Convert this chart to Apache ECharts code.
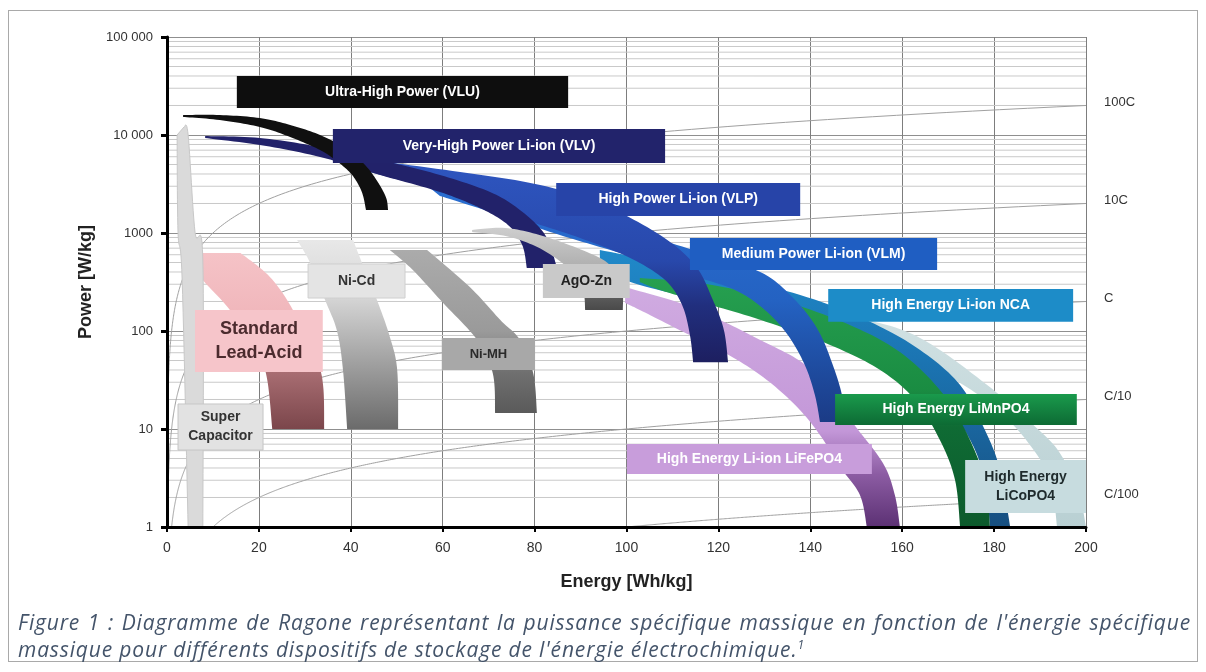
<!DOCTYPE html>
<html><head><meta charset="utf-8">
<script src="https://cdn.jsdelivr.net/npm/echarts@6.0.0/dist/echarts.min.js"></script>
<style>
html,body{margin:0;padding:0;background:#fff;}
#wrap{position:relative;width:1206px;height:672px;overflow:hidden;background:#fff;}
#chart{position:absolute;left:0;top:0;width:1206px;height:672px;}
#frame{position:absolute;left:8px;top:10px;width:1190px;height:652px;border:1.5px solid #a9a9a9;box-sizing:border-box;pointer-events:none;}
#caption{position:absolute;left:18px;top:609px;width:1173px;font-family:"Open Sans","Liberation Sans",sans-serif;font-style:italic;font-size:21px;color:#44546a;line-height:27px;}
#cap1{text-align:justify;text-align-last:justify;}
#caption sup{font-size:12px;line-height:0;}
</style></head>
<body><div id="wrap"><div id="chart"></div><div id="frame"></div>
<div id="caption"><div id="cap1">Figure 1 : Diagramme de Ragone représentant la puissance spécifique massique en fonction de l'énergie spécifique</div><div id="cap2"><span id="cap2s">massique pour différents dispositifs de stockage de l'énergie électrochimique.<sup>1</sup></span></div></div>
</div>
<script>
// ---------- data (Energy Wh/kg, Power W/kg) ----------
const xTicks = [0,20,40,60,80,100,120,140,160,180,200];
const yDecades = [1,10,100,1000,10000,100000];
const minorGridP = [2,3,4,5,6,7,8,9,20,30,40,50,60,70,80,90,200,300,400,500,600,700,800,900,2000,3000,4000,5000,6000,7000,8000,9000,20000,30000,40000,50000,60000,70000,80000,90000];
const cRates = [100,10,1,0.1,0.01];
const cRateNames = ['100C','10C','C','C/10','C/100'];

const superCapRight = [[3.7,12070],[4.6,10000],[6.1,1020],[7.8,530],[7.8,1]];
const superCapLeft  = [[4.6,1],[3.3,331],[2.4,1020],[2.2,10000]];
const leadAcidOuter = [[16,625],[22.4,356],[27.4,164],[32.6,50],[34,27],[34.2,10]];
const leadAcidInner = [[22.9,10],[21.8,32],[19.6,64],[13.7,164],[7.2,356],[3.9,625]];
const niCdOuter = [[40.5,850],[42.4,500],[45.7,207],[48.5,87],[50.1,40],[50.3,10]];
const niCdInner = [[39.2,10],[38.3,40],[37,100],[34.4,207],[31.1,500],[28.3,850]];
const niMHOuter = [[56.6,670],[65.9,281],[72.5,130],[76.8,81],[79.7,37],[80.5,14.6]];
const niMHInner = [[71.4,14.6],[70.9,37],[67.5,81],[60.1,193],[53.5,419],[48.5,670]];
const agoZnOuter = [[66.4,1075],[73.6,1125],[81.8,932],[91.4,640],[96.4,471],[99.0,295],[99.2,164]];
const agoZnInner = [[91.0,164],[90.5,262],[87.7,419],[81.8,671],[74.6,911],[66.4,1023]];
const vluUpper = [[3.5,16000],[11.5,16000],[20.2,14900],[26.8,12650],[33.3,10000],[38.7,7370],[43.1,4940],[45.9,3300],[47.7,2280],[48.1,1720]];
const vluLower = [[43.3,1720],[42.4,2620],[40.3,3900],[37.2,5300],[33.3,7030],[26.8,9540],[20.2,12070],[11.5,14200],[3.5,15300]];
const vlvUpper = [[8.3,9770],[20.2,9310],[33.3,7550],[46.4,5560],[59.4,3910],[70.3,2620],[76.8,1720],[82.3,954],[84.9,439]];
const vlvLower = [[78.3,439],[77.3,755],[74.2,1210],[68.1,1800],[59.4,2620],[46.4,3910],[33.3,5970],[20.2,7910],[8.3,9310]];
const vlpUpper = [[44.2,5560],[63.8,4190],[81.2,3090],[94.9,1930],[107.3,954],[114.9,471],[118.8,207],[121.2,102],[122.1,48]];
const vlpLower = [[114.5,48],[113.8,91],[112.1,184],[108.4,331],[100.8,556],[89.9,889],[76.8,1420],[63.8,2440],[50.7,3470],[44.2,4190]];
const vlmUpper = [[55.1,3470],[68.1,2560],[81.8,1890],[100.1,1075],[114.5,671],[129.1,400],[136.7,207],[141.7,102],[144.9,45],[146.9,22.2],[147.8,11.8]];
const vlmLower = [[142.1,11.8],[141.0,22.2],[138.8,45],[135.1,91],[130.1,164],[123.6,262],[113.8,373],[100.1,597],[85.5,954],[72.5,1530],[59.4,2390]];
const ncaUpper = [[94.2,671],[116.0,419],[137.8,233],[153.0,124],[163.9,64],[172.6,28.1],[178.0,9.77],[181.3,3.82],[183.5,1]];
const ncaLower = [[179.1,1],[178.0,3.02],[174.8,7.72],[169.3,17.6],[160.6,35.6],[150.8,64],[137.8,107],[120.3,184],[102.9,295],[94.2,419]];
const limnUpper = [[102.9,347],[116.0,309],[133.4,207],[148.6,115],[159.5,61],[168.2,25],[173.7,9.77],[178.0,3.02],[179.1,1]];
const limnLower = [[172.6,1],[171.5,3.02],[168.2,7.72],[162.8,19.8],[155.2,40],[144.3,72],[129.1,130],[116.0,198],[107.3,262],[102.9,316]];
const lifeUpper = [[99.7,281],[111.6,193],[120.3,130],[129.1,81],[138.4,47.1],[145.4,22.2],[149.3,11.5],[155.8,4.5],[158.4,2.12],[159.5,1]];
const lifeLower = [[152.3,1],[150.8,2.12],[146.5,4.1],[142.1,8.69],[136.7,17.6],[129.1,35.6],[120.3,64],[111.6,102],[102.9,164],[99.7,193]];
const licoUpper = [[133.4,207],[150.8,136],[163.9,85],[178.5,28.1],[189.3,10.2],[194.3,5.69],[198.3,2.39],[200,1]];
const licoLower = [[193.7,1],[192.2,3.02],[187.8,6.87],[181.3,14.9],[172.6,29.5],[161.7,53],[150.8,85],[137.8,136],[133.4,164]];

const labelNames = ['Ultra-High Power (VLU)','Very-High Power Li-ion (VLV)','High Power Li-ion (VLP)','Medium Power Li-ion (VLM)','High Energy Li-ion NCA','High Energy LiMnPO4','High Energy Li-ion LiFePO4','High Energy\nLiCoPO4','Ni-Cd','Ni-MH','AgO-Zn','Standard\nLead-Acid','Super\nCapacitor'];
// box corners: [E1, P1, E2, P2]
const labelBoxes = [[15.2,18870,87.3,40000],[36.1,5180,108.4,11510],[84.7,1490,137.8,3237],[113.8,419,167.6,889],[143.9,124,197.2,268],[145.4,11,198,22.8],[100.1,3.47,153.4,7.03],[173.7,1.39,200,4.83],[30.7,217,51.8,483],[59.8,40,80.1,84.9],[81.8,217,100.7,483],[6.1,38.2,33.9,164],[2.4,6.1,20.9,18]];

// ---------- styles ----------
const FONT = '"Liberation Sans", Arial, sans-serif';
const G = (stops) => new echarts.graphic.LinearGradient(0,0,0,1, stops.map(s=>({offset:s[0],color:s[1]})));
const boxStyles = [
  {fill:'#0e0e0e', text:'#ffffff', size:14},
  {fill:'#22236b', text:'#ffffff', size:14},
  {fill:'#2744a8', text:'#ffffff', size:14},
  {fill:'#1f5ec2', text:'#ffffff', size:14},
  {fill:'#1d8cc8', text:'#ffffff', size:14},
  {fill:G([[0,'#1a9a4c'],[1,'#0d6b34']]), text:'#ffffff', size:14},
  {fill:'#c89ddb', text:'#ffffff', size:14},
  {fill:'#c7dcdf', text:'#1e2a2c', size:14},
  {fill:'#e4e4e4', text:'#333333', size:14, stroke:'#cfcfcf'},
  {fill:'#a8a8a8', text:'#2a2a2a', size:13},
  {fill:'#c9c9c9', text:'#222222', size:14},
  {fill:'#f6c5ca', text:'#4b2b2e', size:18},
  {fill:'#e2e2e2', text:'#333333', size:14, stroke:'#c6c6c6'}
];

function catmull(pts, seg) {
  if (pts.length < 3) return pts.slice();
  const out = [];
  for (let i = 0; i < pts.length - 1; i++) {
    const p0 = pts[i-1] || pts[i], p1 = pts[i], p2 = pts[i+1], p3 = pts[i+2] || pts[i+1];
    for (let s = 0; s < seg; s++) {
      const t = s/seg, t2 = t*t, t3 = t2*t;
      const f = (k) => 0.5*((2*p1[k]) + (-p0[k]+p2[k])*t + (2*p0[k]-5*p1[k]+4*p2[k]-p3[k])*t2 + (-p0[k]+3*p1[k]-3*p2[k]+p3[k])*t3);
      out.push([f(0), f(1)]);
    }
  }
  out.push(pts[pts.length-1]);
  return out;
}

function band(name, edgeA, edgeB, fill, z, stroke) {
  return {
    type:'custom', name, z, silent:true, clip:true,
    coordinateSystem:'cartesian2d',
    data: edgeA.concat(edgeB),
    encode:{x:0, y:1},
    renderItem(params, api) {
      if (params.dataIndex !== 0) return null;
      const a = catmull(edgeA.map(p => api.coord(p)), 12);
      const b = catmull(edgeB.map(p => api.coord(p)), 12);
      return {type:'polygon', shape:{points:a.concat(b)}, style:{fill, stroke: stroke || null, lineWidth: stroke ? 1 : 0}};
    }
  };
}

const chart = echarts.init(document.getElementById('chart'), null, {renderer:'canvas'});
const axisCommon = {min:0, max:200, interval:20};
const option = {
  animation:false,
  backgroundColor:'#ffffff',
  grid:{left:167, right:120, top:37, bottom:145, containLabel:false},
  xAxis:[
    Object.assign({type:'value', z:0, axisLine:{show:false}, axisTick:{show:false}, axisLabel:{show:false},
      splitLine:{show:true, lineStyle:{color:'#7d7d7d', width:1}}}, axisCommon),
    Object.assign({type:'value', z:60, position:'bottom',
      axisLine:{show:true, onZero:false, lineStyle:{color:'#000', width:3}},
      axisTick:{show:true, length:5, lineStyle:{color:'#000', width:2}},
      axisLabel:{show:true, margin:14, color:'#333', fontSize:14, fontFamily:FONT},
      splitLine:{show:false},
      name:'Energy [Wh/kg]', nameLocation:'middle', nameGap:46,
      nameTextStyle:{fontSize:18, fontWeight:'bold', color:'#222', fontFamily:FONT}}, axisCommon)
  ],
  yAxis:[
    {type:'log', logBase:10, min:1, max:100000, z:0, axisLine:{show:false}, axisTick:{show:false}, axisLabel:{show:false},
      splitLine:{show:true, lineStyle:{color:'#8f8f8f', width:1}}},
    {type:'log', logBase:10, min:1, max:100000, z:60, position:'left',
      axisLine:{show:true, onZero:false, lineStyle:{color:'#000', width:3}},
      axisTick:{show:true, length:6, lineStyle:{color:'#000', width:3}},
      axisLabel:{show:true, margin:14, color:'#333', fontSize:13, fontFamily:FONT,
        formatter:(v)=> v >= 10000 ? String(v).replace(/\B(?=(\d{3})+$)/g,' ') : String(v)},
      splitLine:{show:false},
      name:'Power [W/kg]', nameLocation:'middle', nameGap:70, nameRotate:90,
      nameTextStyle:{fontSize:18, fontWeight:'bold', color:'#222', fontFamily:FONT}}
  ],
  series:[
    { // minor log grid lines
      type:'custom', name:'minorGrid', z:1, silent:true, clip:true,
      data: minorGridP.map(v=>[0, v]), encode:{x:0, y:1},
      renderItem(params, api){
        const v = api.value(1);
        const a = api.coord([0, v]), b = api.coord([200, v]);
        return {type:'line', shape:{x1:a[0], y1:a[1], x2:b[0], y2:b[1]}, style:{stroke:'#c9c9c9', lineWidth:1}};
      }
    },
    { // C-rate iso lines (P = rate x E)
      type:'custom', name:'cRates', z:2, silent:true, clip:false,
      data: cRates.map((r,i)=>({value:[200, r*200], name:cRateNames[i]})), encode:{x:0, y:1},
      renderItem(params, api){
        const r = cRates[params.dataIndex];
        const eMin = Math.max(1/r, 0.005);
        const pts = [];
        const N = 300;
        for (let k = 0; k <= N; k++) {
          const e = eMin * Math.pow(200/eMin, k/N);
          pts.push(api.coord([e, r*e]));
        }
        const end = pts[pts.length-1];
        return {type:'group', children:[
          {type:'polyline', shape:{points:pts}, style:{stroke:'#a0a0a0', lineWidth:1, fill:null}},
          {type:'text', x:end[0]+18, y:end[1]-3, style:{text:cRateNames[params.dataIndex], fill:'#333', font:'13px '+FONT, textAlign:'left', textVerticalAlign:'middle'}}
        ]};
      }
    },
    band('LiCoPO4', licoUpper, licoLower, G([[0,'#d2e2e4'],[1,'#b9d0d3']]), 3),
    band('NCA', ncaUpper, ncaLower, G([[0,'#2089c9'],[0.4,'#1b74b2'],[1,'#174f80']]), 4),
    band('LiMnPO4', limnUpper, limnLower, G([[0,'#26a050'],[0.45,'#1a8c42'],[0.6,'#0f6b34'],[1,'#0c5a2c']]), 5),
    band('LiFePO4', lifeUpper, lifeLower, G([[0,'#d0abe1'],[0.6,'#c397d8'],[0.78,'#8c5ca3'],[1,'#5c3174']]), 6),
    band('VLM', vlmUpper, vlmLower, G([[0,'#2a6fd2'],[0.5,'#2462c2'],[0.75,'#1f4ea3'],[1,'#1b3b86']]), 7),
    band('VLP', vlpUpper, vlpLower, G([[0,'#2e56c0'],[0.5,'#2848ab'],[0.72,'#212f7e'],[1,'#1d1f60']]), 8),
    band('VLV', vlvUpper, vlvLower, '#22226a', 9),
    band('VLU', vluUpper, vluLower, '#101010', 10),
    band('AgO-Zn', agoZnOuter, agoZnInner, G([[0,'#cecece'],[0.7,'#a0a0a0'],[0.85,'#5a5a5a'],[1,'#4a4a4a']]), 11),
    band('Ni-MH', niMHOuter, niMHInner, G([[0,'#ababab'],[0.5,'#9a9a9a'],[0.75,'#707070'],[1,'#5a5a5a']]), 12),
    band('Ni-Cd', niCdOuter, niCdInner, G([[0,'#e8e8e8'],[0.3,'#d6d6d6'],[1,'#6b6b6b']]), 13),
    band('Lead-Acid', leadAcidOuter, leadAcidInner, G([[0,'#f5c3c7'],[0.45,'#efb3b8'],[0.62,'#b07479'],[1,'#7b464b']]), 14),
    band('Super Capacitor', superCapRight, superCapLeft, '#dadada', 15, '#c8c8c8'),
    { // labels
      type:'custom', name:'labels', z:30, silent:true, clip:false,
      data: labelBoxes, encode:{x:[0,2], y:[1,3]},
      renderItem(params, api){
        const i = params.dataIndex, b = labelBoxes[i], st = boxStyles[i];
        const p1 = api.coord([b[0], b[1]]), p2 = api.coord([b[2], b[3]]);
        const x = Math.min(p1[0],p2[0]), y = Math.min(p1[1],p2[1]);
        const w = Math.abs(p2[0]-p1[0]), h = Math.abs(p2[1]-p1[1]);
        return {type:'group', children:[
          {type:'rect', shape:{x, y, width:w, height:h}, style:{fill:st.fill, stroke:st.stroke||null, lineWidth:st.stroke?1:0}},
          {type:'text', x:x+w/2, y:y+h/2, style:{text:labelNames[i], fill:st.text, font:'bold '+st.size+'px '+FONT, textAlign:'center', textVerticalAlign:'middle', lineHeight:Math.round(st.size*1.35)}}
        ]};
      }
    }
  ]
};
chart.setOption(option);

// fit caption line 2 width to the reference (~787px)
(function(){
  const cap = document.getElementById('caption');
  const s = document.getElementById('cap2s');
  const c1 = document.getElementById('cap1');
  const w = s.getBoundingClientRect().width;
  const n = s.textContent.length;
  let ls = Math.max(0, (787 - w) / n);
  cap.style.letterSpacing = ls.toFixed(3) + 'px';
  while (c1.getBoundingClientRect().height > 30 && ls > -1) {
    ls -= 0.1;
    cap.style.letterSpacing = ls.toFixed(3) + 'px';
  }
})();
</script>
</body></html>
